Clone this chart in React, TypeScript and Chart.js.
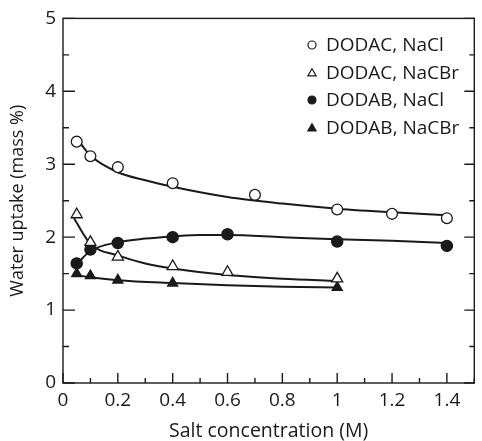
import React, { useEffect, useRef } from 'react';
import { Chart, registerables } from 'chart.js';
Chart.register(...registerables);

// ---- data ----
const seriesLabels = ['DODAC, NaCl', 'DODAC, NaCBr', 'DODAB, NaCl', 'DODAB, NaCBr'];

const dodacNaClX = [0.05, 0.1, 0.2, 0.4, 0.7, 1.0, 1.2, 1.4];
const dodacNaClY = [3.31, 3.11, 2.96, 2.74, 2.58, 2.38, 2.32, 2.26];

const dodacNaCBrX = [0.05, 0.1, 0.2, 0.4, 0.6, 1.0];
const dodacNaCBrY = [2.31, 1.93, 1.73, 1.6, 1.52, 1.43];

const dodabNaClX = [0.05, 0.1, 0.2, 0.4, 0.6, 1.0, 1.4];
const dodabNaClY = [1.64, 1.83, 1.92, 2.0, 2.04, 1.94, 1.88];

const dodabNaCBrX = [0.05, 0.1, 0.2, 0.4, 1.0];
const dodabNaCBrY = [1.5, 1.47, 1.41, 1.37, 1.31];

// fitted curves
const fitDodacNaClX = [0.055, 0.1, 0.2, 0.3, 0.4, 0.6, 0.8, 1.0, 1.2, 1.4];
const fitDodacNaClY = [3.33, 3.12, 2.89, 2.78, 2.69, 2.55, 2.46, 2.39, 2.34, 2.3];

const fitDodacNaCBrX = [0.04, 0.1, 0.2, 0.3, 0.4, 0.6, 0.8, 1.0];
const fitDodacNaCBrY = [2.26, 1.91, 1.75, 1.64, 1.57, 1.48, 1.43, 1.4];

const fitDodabNaClX = [0.05, 0.1, 0.2, 0.3, 0.4, 0.5, 0.6, 0.8, 1.0, 1.2, 1.4];
const fitDodabNaClY = [1.63, 1.81, 1.93, 1.98, 2.01, 2.03, 2.03, 2.0, 1.97, 1.95, 1.92];

const fitDodabNaCBrX = [0.04, 0.1, 0.2, 0.4, 0.6, 0.8, 1.0];
const fitDodabNaCBrY = [1.49, 1.45, 1.41, 1.37, 1.34, 1.32, 1.31];

const xTickValues = [0, 0.2, 0.4, 0.6, 0.8, 1.0, 1.2, 1.4];
const xTickLabels = ['0', '0.2', '0.4', '0.6', '0.8', '1', '1.2', '1.4'];
const xMinorTicks = [0.1, 0.3, 0.5, 0.7, 0.9, 1.1, 1.3, 1.5];
const yTickValues = [0, 1, 2, 3, 4, 5];
const yTickLabels = ['0', '1', '2', '3', '4', '5'];
const yMinorTicks = [0.5, 1.5, 2.5, 3.5, 4.5];

const FONT = "'Open Sans', 'DejaVu Sans', sans-serif";
const INK = '#1a1a1a';

const zip = (xs: number[], ys: number[]) => xs.map((x, i) => ({ x, y: ys[i] }));

const markerStyles = [
  { pointStyle: 'circle', fill: '#ffffff', r: 5.4 },
  { pointStyle: 'triangle', fill: '#ffffff', r: 6.4 },
  { pointStyle: 'circle', fill: INK, r: 5.6 },
  { pointStyle: 'triangle', fill: INK, r: 5.8 },
];

const boxPlugin = {
  id: 'boxTicks',
  afterDraw(chart: any) {
    const { ctx, chartArea: a, scales } = chart;
    const xs = scales.x;
    const ys = scales.y;
    ctx.save();
    ctx.strokeStyle = INK;
    ctx.lineWidth = 1.4;
    ctx.strokeRect(a.left, a.top, a.right - a.left, a.bottom - a.top);
    ctx.beginPath();
    const hTick = (v: number, len: number) => {
      const px = xs.getPixelForValue(v);
      ctx.moveTo(px, a.bottom);
      ctx.lineTo(px, a.bottom - len);
    };
    xTickValues.forEach((v) => hTick(v, 10));
    xMinorTicks.forEach((v) => hTick(v, 5));
    const vTick = (v: number, lenL: number, lenR: number) => {
      const py = ys.getPixelForValue(v);
      ctx.moveTo(a.left, py);
      ctx.lineTo(a.left + lenL, py);
      ctx.moveTo(a.right, py);
      ctx.lineTo(a.right - lenR, py);
    };
    yTickValues.forEach((v) => vTick(v, 12, 10));
    yMinorTicks.forEach((v) => vTick(v, 6, 5));
    ctx.stroke();

    // legend
    const symX = 312;
    const textX = 326;
    const rowY = [45, 72.5, 100, 127.5];
    ctx.font = `19px ${FONT}`;
    ctx.textBaseline = 'middle';
    ctx.textAlign = 'left';
    seriesLabels.forEach((label, i) => {
      const m = markerStyles[i];
      const y = rowY[i];
      ctx.beginPath();
      ctx.lineWidth = 1.2;
      if (m.pointStyle === 'circle') {
        ctx.arc(symX, y, 4, 0, Math.PI * 2);
      } else {
        const r = 4.8;
        for (let k = 0; k < 3; k++) {
          const ang = (k * 2 * Math.PI) / 3;
          const px = symX + Math.sin(ang) * r;
          const py = y + 1 - Math.cos(ang) * r;
          if (k === 0) ctx.moveTo(px, py);
          else ctx.lineTo(px, py);
        }
        ctx.closePath();
      }
      ctx.fillStyle = m.fill;
      ctx.fill();
      ctx.stroke();
      ctx.fillStyle = INK;
      ctx.fillText(label, textX, y + 1);
    });
    ctx.restore();
  },
};

export default function App() {
  const ref = useRef<HTMLCanvasElement>(null);
  useEffect(() => {
    document.body.style.margin = '0';
    const pointSets = [
      zip(dodacNaClX, dodacNaClY),
      zip(dodacNaCBrX, dodacNaCBrY),
      zip(dodabNaClX, dodabNaClY),
      zip(dodabNaCBrX, dodabNaCBrY),
    ];
    const fitSets = [
      zip(fitDodacNaClX, fitDodacNaClY),
      zip(fitDodacNaCBrX, fitDodacNaCBrY),
      zip(fitDodabNaClX, fitDodabNaClY),
      zip(fitDodabNaCBrX, fitDodabNaCBrY),
    ];
    const datasets: any[] = [];
    pointSets.forEach((pts, i) => {
      const m = markerStyles[i];
      datasets.push({
        label: seriesLabels[i],
        data: pts,
        showLine: false,
        pointStyle: m.pointStyle,
        pointRadius: m.r,
        pointBackgroundColor: m.fill,
        pointBorderColor: INK,
        pointBorderWidth: 1.3,
        order: 0,
      });
    });
    fitSets.forEach((pts, i) => {
      datasets.push({
        label: seriesLabels[i] + ' fit',
        data: pts,
        showLine: true,
        borderColor: INK,
        borderWidth: 2,
        pointRadius: 0,
        cubicInterpolationMode: 'monotone',
        fill: false,
        order: 1,
      });
    });

    const chart = new Chart(ref.current!, {
      type: 'scatter',
      data: { datasets },
      options: {
        animation: false,
        responsive: false,
        devicePixelRatio: 1,
        layout: { padding: { top: 18, right: 1, left: 0, bottom: 0 } },
        plugins: { legend: { display: false }, tooltip: { enabled: false } },
        scales: {
          x: {
            type: 'linear',
            min: 0,
            max: 1.5,
            afterBuildTicks: (s: any) => {
              s.ticks = xTickValues.map((v) => ({ value: v }));
            },
            afterFit: (s: any) => {
              s.height = 58;
            },
            grid: { display: false, drawTicks: false },
            border: { display: false },
            ticks: {
              autoSkip: false,
              maxRotation: 0,
              padding: 6,
              color: INK,
              font: { family: FONT, size: 19 },
              callback: (_v: any, i: number) => xTickLabels[i],
            },
            title: {
              display: true,
              text: 'Salt concentration (M)',
              color: INK,
              font: { family: FONT, size: 19.5, lineHeight: 1 },
              padding: { top: 0, bottom: -0.5 },
            },
          },
          y: {
            type: 'linear',
            min: 0,
            max: 5,
            afterBuildTicks: (s: any) => {
              s.ticks = yTickValues.map((v) => ({ value: v }));
            },
            afterFit: (s: any) => {
              s.width = 63;
            },
            grid: { display: false, drawTicks: false },
            border: { display: false },
            ticks: {
              autoSkip: false,
              padding: 7,
              color: INK,
              font: { family: FONT, size: 19 },
              callback: (_v: any, i: number) => yTickLabels[i],
            },
            title: {
              display: true,
              text: 'Water uptake (mass %)',
              color: INK,
              font: { family: FONT, size: 18, lineHeight: 1 },
              padding: { top: 9, bottom: 0 },
            },
          },
        },
      },
      plugins: [boxPlugin],
    } as any);
    return () => chart.destroy();
  }, []);
  return (
    <div style={{ position: 'absolute', left: 0, top: 0, width: 482, height: 441 }}>
      <canvas ref={ref} width={482} height={441} />
    </div>
  );
}
